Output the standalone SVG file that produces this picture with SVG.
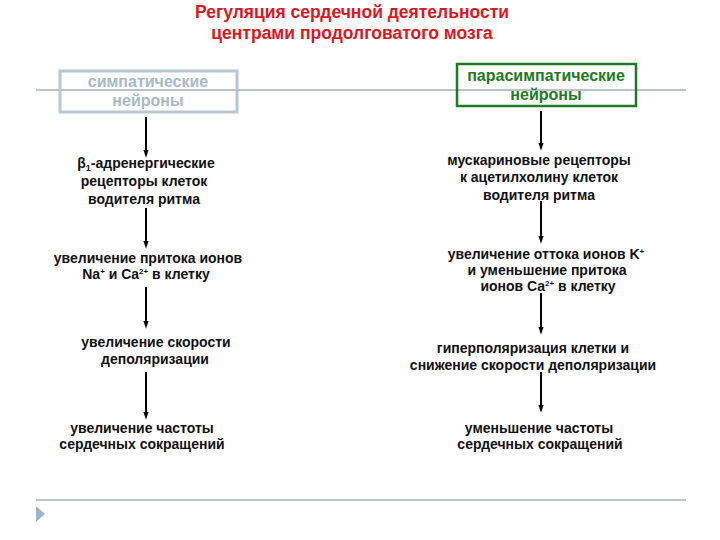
<svg xmlns="http://www.w3.org/2000/svg" width="720" height="540" viewBox="0 0 720 540">
<defs>
<marker id="ah" markerWidth="8" markerHeight="12" refX="8" refY="4" orient="auto" markerUnits="userSpaceOnUse" viewBox="0 0 12 8">
<path d="M0,0 L12,4 L0,8 Z" fill="#000"/>
</marker>
<style>
text{font-family:"Liberation Sans",Arial,sans-serif;font-weight:bold;text-anchor:middle}
.t{font-size:17.5px;fill:#e0141e}
.n{font-size:14px;fill:#111}
.c line{stroke:#000;stroke-width:2;marker-end:url(#ah)}
.rule{stroke:#b9c3c9;stroke-width:2}
</style>
</defs>
<rect width="720" height="540" fill="#fff"/>
<g id="title">
<text class="t" x="352" y="18">Регуляция сердечной деятельности</text>
<text class="t" x="352" y="39">центрами продолговатого мозга</text>
</g>
<line class="rule" x1="36" y1="90" x2="686" y2="90"/>
<line class="rule" x1="36" y1="500" x2="686" y2="500"/>
<polygon points="36,506 45,514 36,522" fill="#9fb4c8"/>
<g id="symp">
<rect x="60" y="71" width="177" height="41" fill="none" stroke="#b8c7d3" stroke-width="3"/>
<text x="148" y="87" font-size="16" fill="#a9b9c8">симпатические</text>
<text x="148" y="106" font-size="16" fill="#a9b9c8">нейроны</text>
</g>
<g id="parasymp">
<rect x="457" y="64" width="179" height="42" fill="none" stroke="#1e7a22" stroke-width="2.5"/>
<text x="546" y="81" font-size="16" fill="#1e7a22">парасимпатические</text>
<text x="546" y="100" font-size="16" fill="#1e7a22">нейроны</text>
</g>
<g id="l1">
<text class="n" x="146" y="168">β<tspan font-size="9" dy="3">1</tspan><tspan dy="-3">-адренергические</tspan></text>
<text class="n" x="144" y="186">рецепторы клеток</text>
<text class="n" x="144" y="204">водителя ритма</text>
</g>
<g id="l2">
<text class="n" x="148" y="263">увеличение притока ионов</text>
<text class="n" x="146" y="279">Na<tspan font-size="8" dy="-5">+</tspan><tspan dy="5"> и Ca</tspan><tspan font-size="8" dy="-5">2+</tspan><tspan dy="5"> в клетку</tspan></text>
</g>
<g id="l3">
<text class="n" x="156" y="347">увеличение скорости</text>
<text class="n" x="155" y="364">деполяризации</text>
</g>
<g id="l4">
<text class="n" x="142" y="433">увеличение частоты</text>
<text class="n" x="142" y="449">сердечных сокращений</text>
</g>
<g id="r1">
<text class="n" x="539" y="165">мускариновые рецепторы</text>
<text class="n" x="539" y="182">к ацетилхолину клеток</text>
<text class="n" x="539" y="200">водителя ритма</text>
</g>
<g id="r2">
<text class="n" x="546" y="259">увеличение оттока ионов K<tspan font-size="8" dy="-5">+</tspan></text>
<text class="n" x="547" y="275">и уменьшение притока</text>
<text class="n" x="548" y="291">ионов Ca<tspan font-size="8" dy="-5">2+</tspan><tspan dy="5"> в клетку</tspan></text>
</g>
<g id="r3">
<text class="n" x="533" y="353">гиперполяризация клетки и</text>
<text class="n" x="533" y="370">снижение скорости деполяризации</text>
</g>
<g id="r4">
<text class="n" x="539" y="433">уменьшение частоты</text>
<text class="n" x="540" y="449">сердечных сокращений</text>
</g>
<g id="connectors" class="c">
<line x1="146" y1="117" x2="146" y2="155"/>
<line x1="146" y1="208" x2="146" y2="246"/>
<line x1="146" y1="287" x2="146" y2="326"/>
<line x1="146" y1="372" x2="146" y2="417"/>
<line x1="541" y1="111" x2="541" y2="148"/>
<line x1="541" y1="201" x2="541" y2="241"/>
<line x1="541" y1="293" x2="541" y2="332"/>
<line x1="541" y1="372" x2="541" y2="410"/>
</g>
</svg>
